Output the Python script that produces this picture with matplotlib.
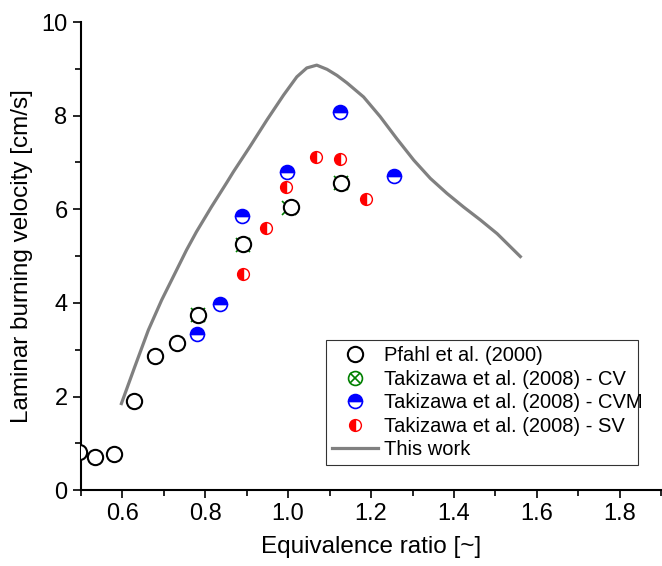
import matplotlib.pyplot as plt
from matplotlib.lines import Line2D
from matplotlib.ticker import MultipleLocator

plt.rcParams['font.family'] = ['Liberation Sans', 'DejaVu Sans']

# Pfahl et al. (2000)
pfahl_phi = [0.495, 0.534, 0.58, 0.629, 0.679, 0.732, 0.783, 0.892, 1.007, 1.128]
pfahl_su = [0.81, 0.71, 0.77, 1.90, 2.86, 3.14, 3.74, 5.26, 6.05, 6.57]

# Takizawa et al. (2008) - CV
cv_phi = [0.783, 0.892, 1.003, 1.128]
cv_su = [3.74, 5.24, 6.02, 6.57]

# Takizawa et al. (2008) - CVM
cvm_phi = [0.781, 0.836, 0.89, 0.997, 1.124, 1.255]
cvm_su = [3.33, 3.97, 5.85, 6.80, 8.08, 6.72]

# Takizawa et al. (2008) - SV
sv_phi = [0.891, 0.946, 0.995, 1.067, 1.124, 1.188]
sv_su = [4.62, 5.60, 6.48, 7.12, 7.07, 6.23]

# This work
work_phi = [0.598, 0.630, 0.663, 0.695, 0.727, 0.755, 0.779, 0.815, 0.852, 0.868,
            0.908, 0.949, 0.989, 1.021, 1.045, 1.069, 1.094, 1.118, 1.142, 1.182,
            1.222, 1.262, 1.303, 1.343, 1.383, 1.423, 1.464, 1.504, 1.56]
work_su = [1.85, 2.63, 3.42, 4.06, 4.63, 5.13, 5.52, 6.05, 6.57, 6.80,
           7.34, 7.91, 8.44, 8.83, 9.02, 9.08, 8.99, 8.86, 8.70, 8.40,
           7.98, 7.51, 7.05, 6.66, 6.34, 6.05, 5.77, 5.48, 4.99]

fig = plt.figure(figsize=(6.62, 5.66), dpi=100)
ax = fig.add_axes([0.122, 0.134, 0.877, 0.827])

line, = ax.plot(work_phi, work_su, color='#808080', lw=2.3, zorder=2,
                solid_joinstyle='round')

ax.plot(cv_phi, cv_su, 'x', ms=10, mec='green', mew=1.2, zorder=3)
ax.plot(pfahl_phi, pfahl_su, 'o', ms=11, mfc='white', mec='black', mew=1.5, zorder=4)
ax.plot(cvm_phi, cvm_su, 'o', ms=10, fillstyle='top',
        mfc='blue', mfcalt='white', mec='blue', mew=1.2, zorder=4)
ax.plot(sv_phi, sv_su, 'o', ms=8.5, fillstyle='left',
        mfc='red', mfcalt='white', mec='red', mew=1.0, zorder=4)

ax.set_xlim(0.5, 1.9)
ax.set_ylim(0, 10)
ax.xaxis.set_major_locator(MultipleLocator(0.2))
ax.xaxis.set_minor_locator(MultipleLocator(0.1))
ax.yaxis.set_major_locator(MultipleLocator(2))
ax.yaxis.set_minor_locator(MultipleLocator(1))
ax.xaxis.set_major_formatter(plt.FuncFormatter(lambda v, p: f'{v:.1f}'))
ax.tick_params(which='major', length=6, width=1.2, labelsize=17, direction='out')
ax.tick_params(which='minor', length=4, width=1.2, direction='out')
ax.spines['right'].set_visible(False)
ax.spines['top'].set_visible(False)
ax.spines['left'].set_linewidth(1.5)
ax.spines['bottom'].set_linewidth(1.5)

ax.set_xlabel('Equivalence ratio [~]', fontsize=17.5, labelpad=8)
ax.set_ylabel('Laminar burning velocity [cm/s]', fontsize=17.5, labelpad=6)

# legend proxies
h_pf = Line2D([], [], ls='none', marker='o', ms=11, mfc='white', mec='black', mew=1.5)
h_cv = (Line2D([], [], ls='none', marker='o', ms=10, mfc='none', mec='green', mew=1.2),
        Line2D([], [], ls='none', marker='x', ms=6.5, mec='green', mew=1.2))
h_cvm = Line2D([], [], ls='none', marker='o', ms=10, fillstyle='top',
               mfc='blue', mfcalt='white', mec='blue', mew=1.2)
h_sv = Line2D([], [], ls='none', marker='o', ms=8.5, fillstyle='left',
              mfc='red', mfcalt='white', mec='red', mew=1.0)

leg = ax.legend([h_pf, h_cv, h_cvm, h_sv, line],
                ['Pfahl et al. (2000)', 'Takizawa et al. (2008) - CV',
                 'Takizawa et al. (2008) - CVM', 'Takizawa et al. (2008) - SV',
                 'This work'],
                loc='upper left', bbox_to_anchor=(0.422, 0.053, 0.538, 0.267),
                mode='expand', fontsize=14.5, handlelength=2.3, labelspacing=0.22,
                fancybox=False, edgecolor='black', borderpad=0.3, handletextpad=0.3,
                borderaxespad=0)
leg.get_frame().set_linewidth(0.8)

fig.savefig('out.png', dpi=100)
